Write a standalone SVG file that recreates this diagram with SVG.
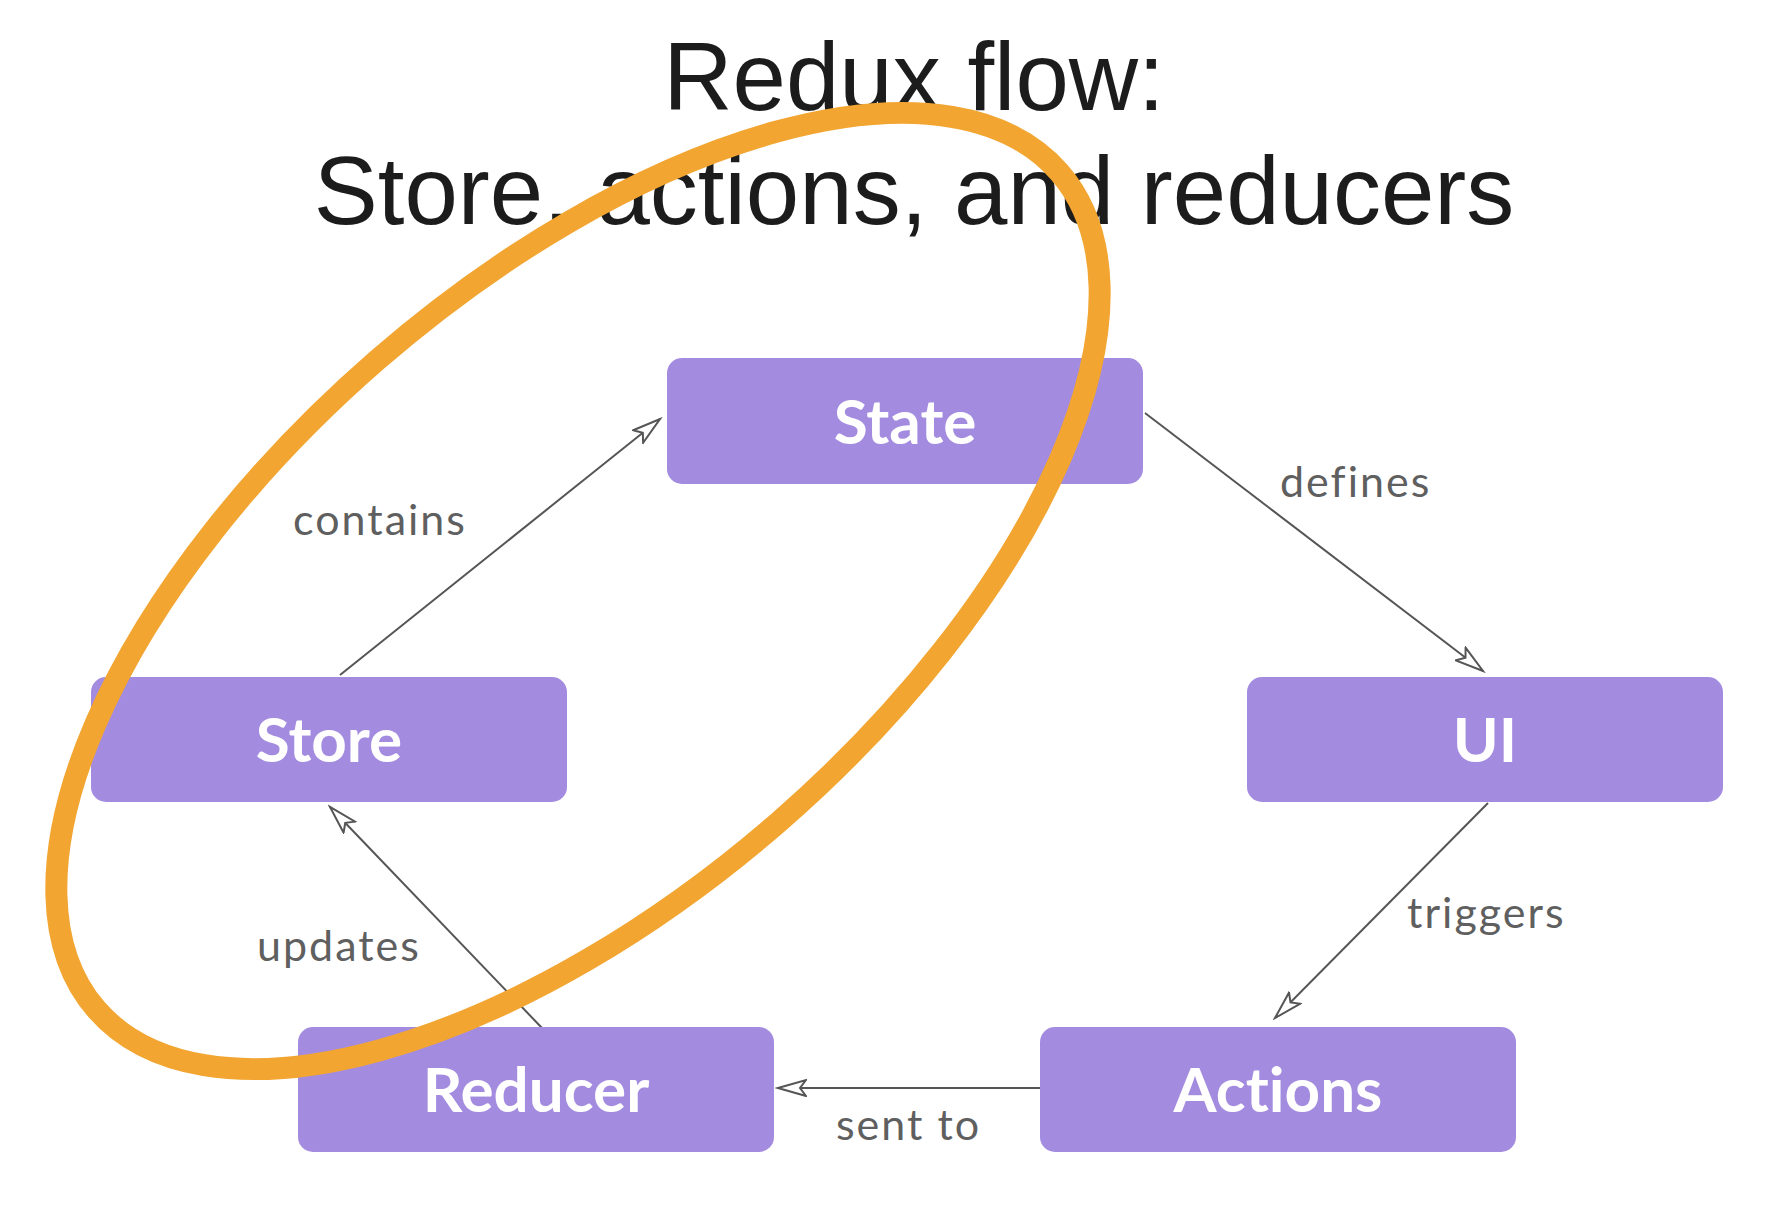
<svg xmlns="http://www.w3.org/2000/svg" width="1784" height="1216" viewBox="0 0 1784 1216">
<style>
.box{fill:#A38CE0;}
.bt{font-family:Lato,"Open Sans",sans-serif;font-weight:700;font-size:62px;fill:#FFFFFF;text-anchor:middle;font-variant-ligatures:none;font-feature-settings:"liga" 0;}
.lbl{font-family:Lato,"Open Sans",sans-serif;font-size:43px;fill:#5f5f5f;letter-spacing:2px;font-variant-ligatures:none;}
.title{font-family:"Liberation Sans",Arial,sans-serif;font-size:96px;fill:#1c1c1c;text-anchor:middle;}
.edge{stroke:#555;stroke-width:2;fill:none;marker-end:url(#arr);}
</style>
<defs>
<marker id="arr" markerUnits="userSpaceOnUse" markerWidth="32" markerHeight="20" refX="29" refY="9" orient="auto">
<path d="M1,1 L29,9 L1,17 L7,9 Z" fill="#fff" stroke="#555" stroke-width="2" stroke-linejoin="miter"/>
</marker>
</defs>
<rect width="1784" height="1216" fill="#fff"/>
<g id="title">
<text class="title" x="914" y="110">Redux flow:</text>
<text class="title" x="914" y="224">Store, actions, and reducers</text>
</g>
<g id="connectors">
<g id="e-contains"><line class="edge" x1="340" y1="675" x2="660" y2="419"/><text class="lbl" x="293" y="535">contains</text></g>
<g id="e-defines"><line class="edge" x1="1145" y1="413" x2="1483" y2="671"/><text class="lbl" x="1280" y="497">defines</text></g>
<g id="e-triggers"><line class="edge" x1="1488" y1="803" x2="1275" y2="1018"/><text class="lbl" x="1407" y="928">triggers</text></g>
<g id="e-sentto"><line class="edge" x1="1040" y1="1088" x2="778" y2="1088"/><text class="lbl" x="836" y="1140">sent to</text></g>
<g id="e-updates"><line class="edge" x1="542" y1="1028" x2="330" y2="807"/><text class="lbl" x="257" y="961">updates</text></g>
</g>
<g id="node-state"><rect class="box" x="667" y="358" width="476" height="126" rx="15"/><text class="bt" x="905" y="444">State</text></g>
<g id="node-store"><rect class="box" x="91" y="677" width="476" height="125" rx="15"/><text class="bt" x="329" y="762">Store</text></g>
<g id="node-ui"><rect class="box" x="1247" y="677" width="476" height="125" rx="15"/><text class="bt" x="1485" y="762">UI</text></g>
<g id="node-reducer"><rect class="box" x="298" y="1027" width="476" height="125" rx="15"/><text class="bt" x="536" y="1112">Reducer</text></g>
<g id="node-actions"><rect class="box" x="1040" y="1027" width="476" height="125" rx="15"/><text class="bt" x="1278" y="1112">Actions</text></g>
<g id="highlight">
<ellipse cx="578" cy="591" rx="638" ry="306" transform="rotate(-41 578 591)" fill="none" stroke="#F2A531" stroke-width="22"/>
</g>
</svg>
